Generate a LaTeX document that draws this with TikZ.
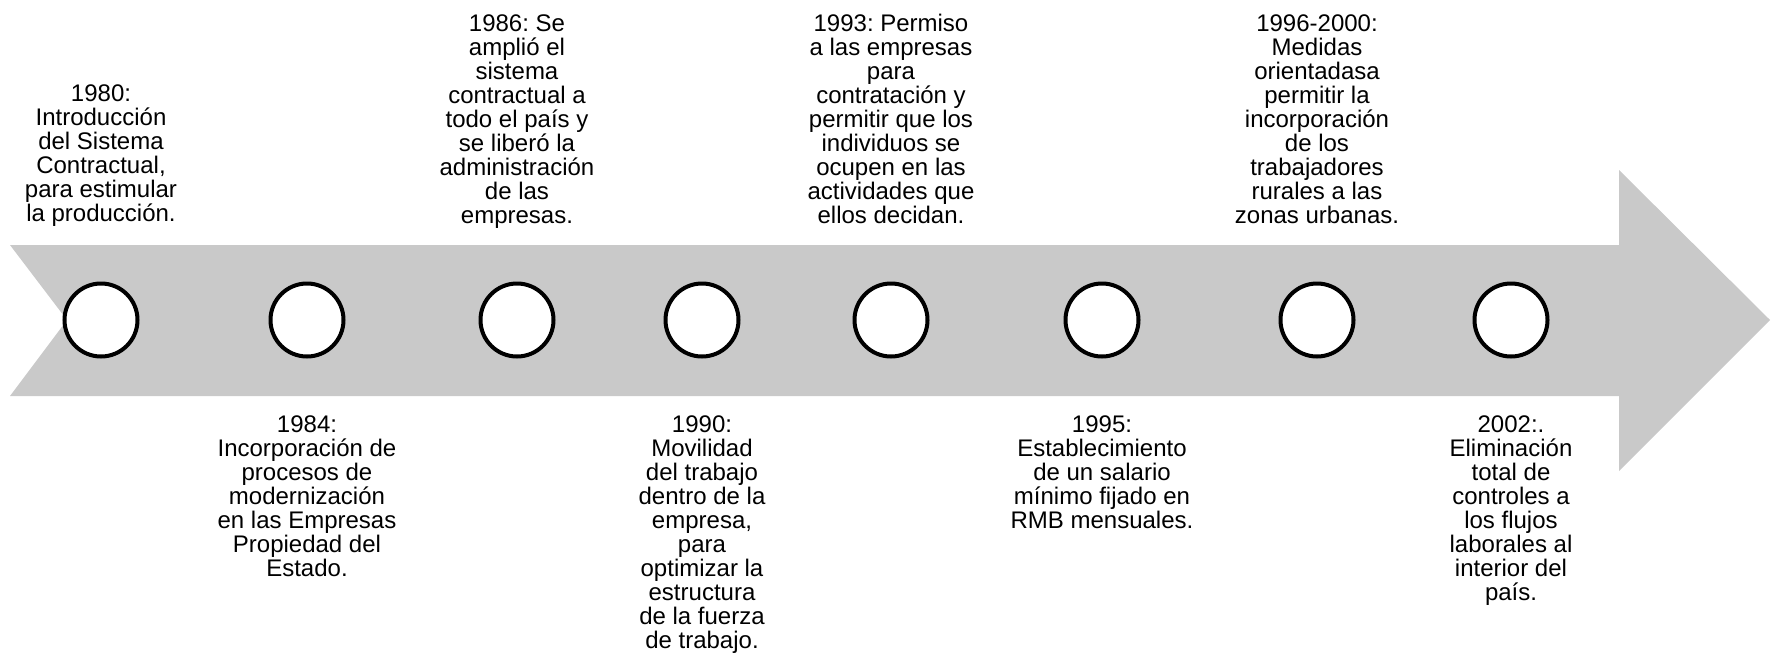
\documentclass[tikz,border=0pt]{standalone}
\usepackage{fontspec}
\setmainfont{Liberation Sans}
\frenchspacing
\definecolor{arrowgray}{RGB}{201,201,201}
\begin{document}
\begin{tikzpicture}[x=0.5pt,y=-0.5pt,
  dot/.style={circle,draw=black,fill=white,line width=2pt,minimum size=36.5pt,inner sep=0pt},
  txt/.style={align=center,inner sep=0pt,font=\fontsize{12}{12}\selectfont\frenchspacing},
  toptxt/.style={txt,anchor=south,text depth=0pt},
  bottxt/.style={txt,anchor=north}]
\useasboundingbox (0,0) rectangle (1773,659);
\fill[arrowgray] (10,245) -- (1619,245) -- (1619,170) -- (1770,320) -- (1619,471) -- (1619,396) -- (10,396) -- (67,320) -- cycle;
\node[dot] (c1) at (101,320) {};
\node[dot] (c2) at (307,320) {};
\node[dot] (c3) at (517,320) {};
\node[dot] (c4) at (702,320) {};
\node[dot] (c5) at (891,320) {};
\node[dot] (c6) at (1102,320) {};
\node[dot] (c7) at (1317,320) {};
\node[dot] (c8) at (1511,320) {};
\node[toptxt] (t1) at (101,222) {1980:\\Introducción\\del Sistema\\Contractual,\\para estimular\\la producción.};
\node[toptxt] (t3) at (517,224) {1986: Se\\amplió el\\sistema\\contractual a\\todo el país y\\se liberó la\\administración\\de las\\empresas.};
\node[toptxt] (t5) at (891,224) {1993: Permiso\\a las empresas\\para\\contratación y\\permitir que los\\individuos se\\ocupen en las\\actividades que\\ellos decidan.};
\node[toptxt] (t7) at (1317,224) {1996-2000:\\Medidas\\orientadasa\\permitir la\\incorporación\\de los\\trabajadores\\rurales a las\\zonas urbanas.};
\node[bottxt] (t2) at (307,415) {1984:\\Incorporación de\\procesos de\\modernización\\en las Empresas\\Propiedad del\\Estado.};
\node[bottxt] (t4) at (702,415) {1990:\\Movilidad\\del trabajo\\dentro de la\\empresa,\\para\\optimizar la\\estructura\\de la fuerza\\de trabajo.};
\node[bottxt] (t6) at (1102,415) {1995:\\Establecimiento\\de un salario\\mínimo fijado en\\RMB mensuales.};
\node[bottxt] (t8) at (1511,415) {2002:.\\Eliminación\\total de\\controles a\\los flujos\\laborales al\\interior del\\país.};
\end{tikzpicture}
\end{document}
